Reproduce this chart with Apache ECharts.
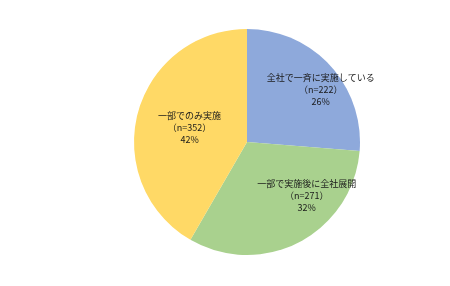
<!DOCTYPE html>
<html>
<head>
<meta charset="utf-8">
<script src="https://cdn.jsdelivr.net/npm/echarts@6/dist/echarts.min.js"></script>
<style>
  html, body { margin: 0; padding: 0; background: #fff; }
  #chart { width: 450px; height: 286px; }
</style>
</head>
<body>
<div id="chart"></div>
<script>
// Survey answer categories and respondent counts
const categories = ['全社で一斉に実施している', '一部で実施後に全社展開', '一部でのみ実施'];
const counts = [222, 271, 352];
const colors = ['#8EA9DB', '#A9D18E', '#FFD966'];

// Label nudges away from the default mid-radius spot (px)
const labelShift = [[30, -12], [32, 1], [0, 1]];

const total = counts.reduce((a, b) => a + b, 0);

const chart = echarts.init(document.getElementById('chart'), null, { renderer: 'canvas' });
chart.setOption({
  animation: false,
  series: [{
    type: 'pie',
    center: [247, 142],
    radius: [0, 113],
    startAngle: 90,
    clockwise: true,
    itemStyle: { borderWidth: 0 },
    label: {
      show: true,
      position: 'inside',
      color: '#1a1a1a',
      fontSize: 9,
      lineHeight: 12,
      fontFamily: '"Noto Sans CJK JP", sans-serif',
      formatter: p => p.name + '\n（n=' + p.value + '）\n' + Math.round(p.value / total * 100) + '%'
    },
    labelLine: { show: false },
    emphasis: { disabled: true },
    labelLayout: p => ({ dx: labelShift[p.dataIndex][0], dy: labelShift[p.dataIndex][1] }),
    data: categories.map((c, i) => ({ name: c, value: counts[i], itemStyle: { color: colors[i] } }))
  }]
});
</script>
</body>
</html>
